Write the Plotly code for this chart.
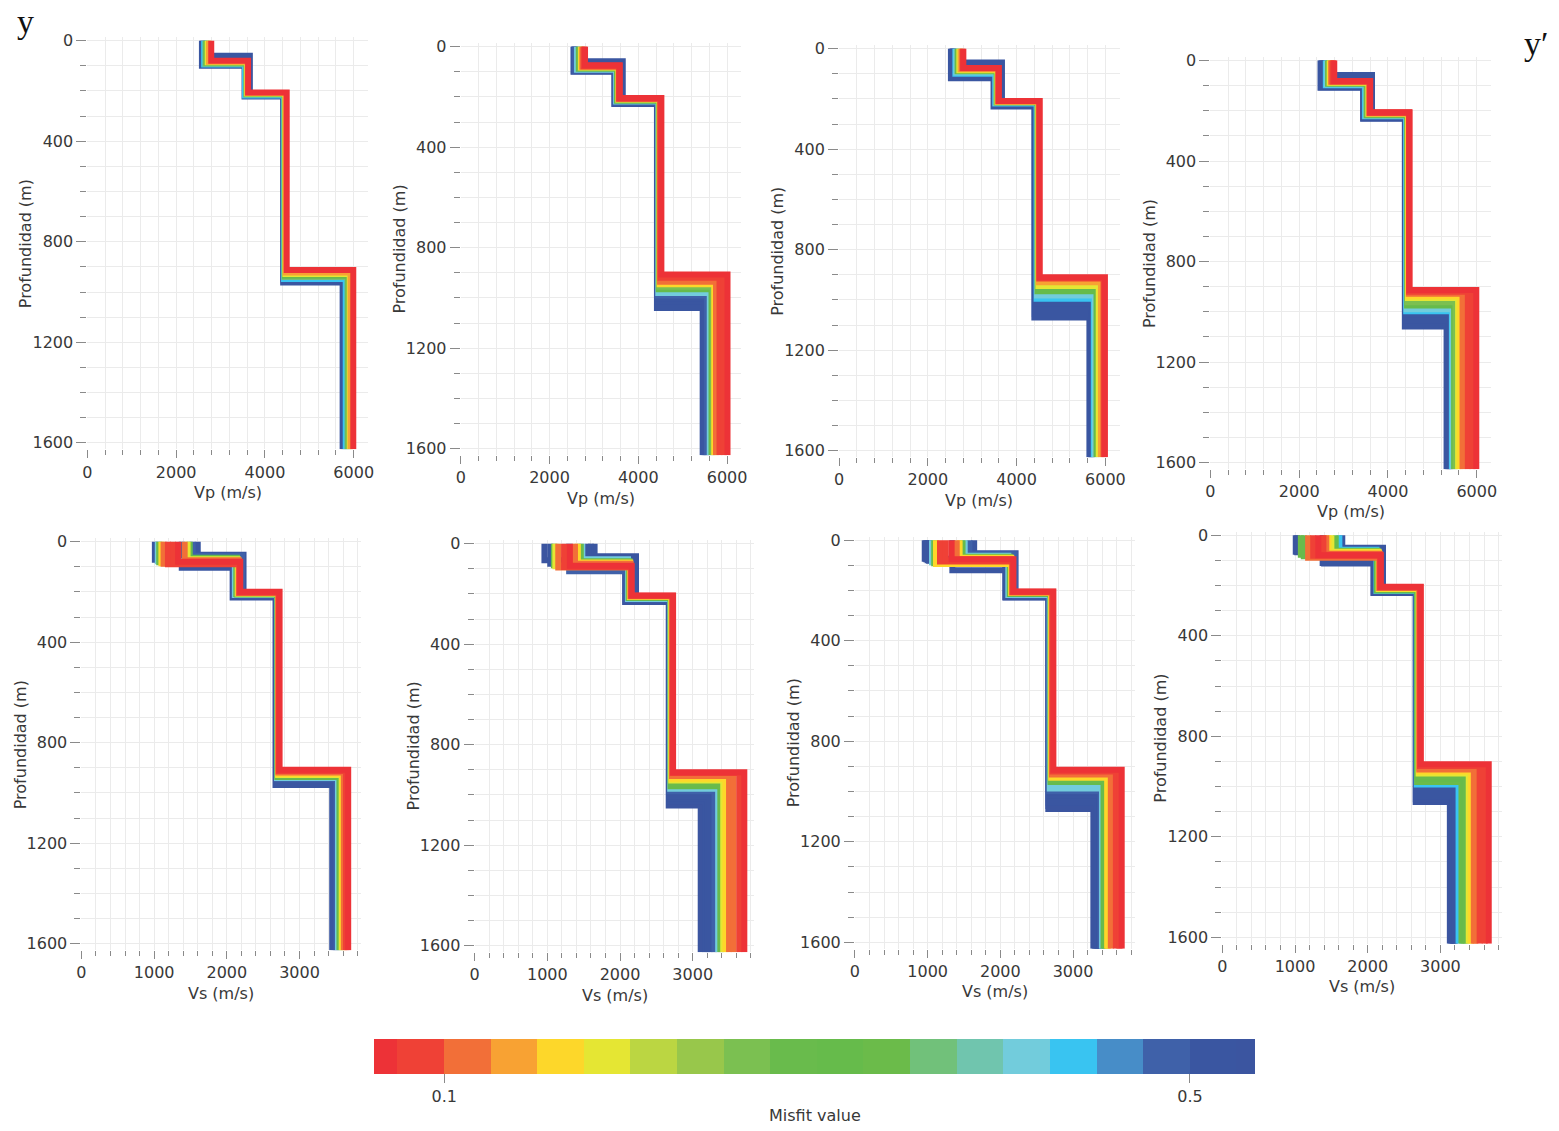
import plotly.graph_objects as go

W, H = 1559, 1131
FONT = "DejaVu Sans"
TXT = "#383838"
TICKC = "#8a8a8a"
GRIDC = "#ebebeb"
FS = 16

MAX_DEPTH = 1626      # bottom of every model (m)
TOP_DEPTH = -13       # top of the depth axis (m)

# ---- misfit colour scale (bin edges and bin colours) ----
MISFIT_EDGES = [0.0625, 0.075, 0.1, 0.125, 0.15, 0.175, 0.2, 0.225, 0.25, 0.275, 0.3,
                0.325, 0.35, 0.375, 0.4, 0.425, 0.45, 0.475, 0.5, 0.525, 0.535]
MISFIT_COLORS = ["#ED3237", "#EF4136", "#F26F38", "#F8A233", "#FDD72A", "#E5E633",
                 "#BBD642", "#98C74B", "#7BC051", "#69BB4C", "#66BB4B", "#6BBB4A",
                 "#71C17A", "#70C5AE", "#72CCDC", "#39C4F1", "#478DC8", "#3F61A9",
                 "#3A56A1", "#3B55A0"]
CBAR_TICKS = [0.1, 0.5]
CBAR_TICKTEXT = ["0.1", "0.5"]

# ---- Vp models: velocities [v1, v2, v3, v4] (m/s), interface depths [d1, d2, d3] (m) ----
VP1_MISFIT = [0.52, 0.50, 0.44, 0.36, 0.28, 0.18, 0.13, 0.07]
VP1_VEL = [[2580, 3540, 4410, 5750], [2600, 3660, 4420, 5790], [2630, 3550, 4430, 5820],
           [2660, 3580, 4440, 5860], [2680, 3590, 4450, 5880], [2710, 3600, 4460, 5910],
           [2740, 3610, 4470, 5930], [2790, 3620, 4490, 5990]]
VP1_DEPTH = [[100, 222, 962], [60, 218, 955], [95, 218, 948], [92, 214, 940],
             [88, 212, 935], [86, 210, 928], [84, 208, 922], [80, 206, 912]]

VP2_MISFIT = [0.52, 0.515, 0.51, 0.505, 0.49, 0.42, 0.32, 0.25, 0.17, 0.12, 0.09, 0.08, 0.07]
VP2_VEL = [[2540, 3460, 4420, 5450], [2550, 3470, 4425, 5475], [2560, 3650, 4430, 5500],
           [2570, 3475, 4435, 5525], [2580, 3480, 4440, 5550],
           [2620, 3500, 4450, 5610], [2660, 3520, 4460, 5650], [2690, 3540, 4470, 5680],
           [2710, 3550, 4480, 5710], [2740, 3560, 4490, 5750], [2770, 3570, 4500, 5830],
           [2790, 3575, 4510, 5930], [2800, 3580, 4520, 6010]]
VP2_DEPTH = [[100, 228, 1040], [98, 226, 1028], [58, 225, 1015], [96, 224, 1003],
             [95, 222, 990], [92, 218, 980],
             [88, 215, 965], [85, 212, 955], [83, 210, 945], [80, 208, 935],
             [78, 206, 920], [76, 205, 912], [74, 204, 907]]

VP3_MISFIT = [0.52, 0.515, 0.51, 0.505, 0.50, 0.43, 0.41, 0.31, 0.19, 0.13, 0.08, 0.07]
VP3_VEL = [[2520, 3480, 4400, 5640], [2540, 3490, 4410, 5660], [2560, 3670, 4420, 5680],
           [2570, 3495, 4425, 5690], [2580, 3500, 4430, 5700],
           [2620, 3520, 4450, 5740], [2640, 3530, 4460, 5760], [2670, 3550, 4470, 5800],
           [2710, 3570, 4490, 5850], [2740, 3580, 4500, 5900], [2780, 3590, 4510, 5960],
           [2800, 3600, 4520, 5990]]
VP3_DEPTH = [[118, 230, 1070], [112, 228, 1056], [55, 225, 1042], [108, 224, 1028],
             [105, 222, 1015], [100, 218, 995],
             [95, 216, 982], [90, 214, 965], [86, 212, 945], [82, 210, 930],
             [78, 209, 915], [77, 208, 910]]

VP4_MISFIT = [0.52, 0.515, 0.51, 0.505, 0.50, 0.43, 0.41, 0.31, 0.26, 0.19, 0.16, 0.12,
              0.09, 0.08, 0.07]
VP4_VEL = [[2480, 3440, 4380, 5320], [2500, 3450, 4385, 5340], [2520, 3640, 4390, 5360],
           [2550, 3455, 4395, 5380], [2580, 3460, 4400, 5400],
           [2600, 3480, 4410, 5440], [2620, 3500, 4420, 5460], [2650, 3520, 4430, 5490],
           [2670, 3540, 4440, 5520], [2690, 3560, 4450, 5580], [2700, 3570, 4460, 5620],
           [2720, 3580, 4470, 5680], [2750, 3590, 4475, 5800], [2770, 3595, 4480, 5900],
           [2790, 3600, 4485, 5990]]
VP4_DEPTH = [[108, 232, 1058], [106, 230, 1046], [57, 228, 1035], [104, 226, 1024],
             [102, 225, 1012], [98, 222, 998],
             [95, 220, 990], [92, 218, 975], [90, 215, 962], [88, 212, 945],
             [86, 211, 938], [84, 210, 928], [83, 208, 920], [82, 207, 916], [81, 206, 913]]

# ---- Vs models ----
VS1_MISFIT = [0.52, 0.51, 0.50, 0.49, 0.41, 0.30, 0.29, 0.18, 0.17, 0.12, 0.11, 0.09, 0.08, 0.07]
VS1_VEL = [[1010, 2080, 2670, 3450], [1600, 2230, 2680, 3480], [1380, 2090, 2680, 3500],
           [1530, 2210, 2690, 3510], [1050, 2110, 2690, 3530], [1490, 2140, 2695, 3550],
           [1070, 2130, 2700, 3560], [1460, 2150, 2705, 3580], [1100, 2160, 2705, 3590],
           [1420, 2165, 2710, 3610], [1130, 2170, 2712, 3620], [1190, 2175, 2715, 3640],
           [1260, 2180, 2720, 3660], [1330, 2185, 2725, 3670]]
VS1_DEPTH = [[72, 222, 968], [52, 218, 958], [104, 216, 950], [56, 214, 945],
             [78, 212, 940], [64, 210, 936], [82, 208, 932], [70, 206, 928],
             [86, 205, 924], [74, 204, 918], [88, 203, 915], [90, 202, 912],
             [85, 200, 910], [80, 199, 908]]

VS2_MISFIT = [0.53, 0.52, 0.515, 0.51, 0.50, 0.49, 0.42, 0.30, 0.28, 0.18, 0.16, 0.12,
              0.10, 0.08, 0.07]
VS2_VEL = [[960, 2070, 2670, 3110], [1650, 2220, 2675, 3170], [1600, 2210, 2678, 3200],
           [1040, 2080, 2680, 3230], [1560, 2200, 2680, 3290], [1300, 2090, 2685, 3300],
           [1480, 2110, 2690, 3350], [1090, 2120, 2695, 3380], [1460, 2130, 2700, 3390],
           [1110, 2135, 2705, 3420], [1420, 2140, 2710, 3450], [1380, 2145, 2715, 3500],
           [1150, 2150, 2720, 3560], [1230, 2155, 2725, 3640], [1310, 2160, 2730, 3710]]
VS2_DEPTH = [[66, 232, 1042], [50, 228, 1025], [53, 227, 1015], [80, 226, 1005],
             [56, 224, 988], [110, 222, 985], [62, 220, 975], [86, 216, 965],
             [70, 214, 955], [90, 212, 942], [75, 210, 935], [80, 209, 925],
             [95, 208, 918], [93, 207, 913], [88, 206, 910]]

VS3_MISFIT = [0.53, 0.525, 0.52, 0.515, 0.51, 0.50, 0.49, 0.41, 0.40, 0.30, 0.28, 0.17,
              0.16, 0.12, 0.09, 0.08, 0.07]
VS3_VEL = [[960, 2070, 2660, 3280], [980, 2072, 2662, 3300], [1640, 2210, 2665, 3320],
           [1000, 2076, 2668, 3340], [1020, 2080, 2670, 3360],
           [1340, 2085, 2670, 3370], [1575, 2200, 2675, 3380], [1510, 2110, 2680, 3400],
           [1060, 2120, 2685, 3405], [1480, 2130, 2690, 3420], [1090, 2140, 2695, 3440],
           [1440, 2150, 2700, 3470], [1115, 2155, 2705, 3480], [1400, 2160, 2710, 3520],
           [1170, 2170, 2720, 3590], [1250, 2175, 2725, 3640], [1330, 2180, 2730, 3670]]
VS3_DEPTH = [[74, 228, 1070], [76, 227, 1058], [52, 226, 1045], [80, 225, 1030],
             [82, 224, 1015], [120, 222, 1005],
             [56, 220, 998], [62, 218, 988], [88, 216, 975], [66, 214, 962],
             [92, 212, 955], [70, 210, 945], [95, 209, 940], [75, 208, 932],
             [85, 206, 920], [80, 205, 916], [76, 204, 913]]

VS4_MISFIT = [0.53, 0.525, 0.52, 0.515, 0.51, 0.44, 0.33, 0.31, 0.29, 0.19, 0.16, 0.12,
              0.11, 0.09, 0.08, 0.07]
VS4_VEL = [[1010, 2080, 2660, 3130], [1030, 2082, 2662, 3150], [1650, 2210, 2665, 3170],
           [1380, 2086, 2668, 3185], [1400, 2090, 2670, 3200],
           [1610, 2120, 2675, 3250], [1080, 2125, 2680, 3290], [1560, 2135, 2685, 3320],
           [1120, 2140, 2690, 3345], [1500, 2150, 2700, 3390], [1460, 2155, 2705, 3420],
           [1180, 2160, 2710, 3460], [1430, 2165, 2715, 3480], [1250, 2170, 2720, 3540],
           [1390, 2175, 2725, 3610], [1320, 2180, 2730, 3665]]
VS4_DEPTH = [[66, 230, 1062], [68, 229, 1051], [50, 228, 1040], [110, 227, 1026],
             [112, 226, 1012], [58, 222, 992],
             [78, 220, 982], [62, 218, 970], [84, 216, 960], [66, 214, 948],
             [70, 212, 940], [90, 210, 932], [74, 208, 925], [82, 207, 918],
             [78, 206, 914], [80, 205, 911]]

# ---- panel placement (pixel position of velocity 0 / depth 0) ----
PX_D = 0.2533
PX_PER = {"Vp": 0.0447, "Vs": 0.0732}
XMAX = {"Vp": 6320, "Vs": 3850}
XDTICK = {"Vp": 2000, "Vs": 1000}
XMINOR = {"Vp": 400, "Vs": 200}
XTITLE = {"Vp": "Vp (m/s)", "Vs": "Vs (m/s)"}
LINE_W = 6

PANELS = [
    ("Vp", 83, 35, VP1_MISFIT, VP1_VEL, VP1_DEPTH),
    ("Vp", 459, 41, VP2_MISFIT, VP2_VEL, VP2_DEPTH),
    ("Vp", 840, 43, VP3_MISFIT, VP3_VEL, VP3_DEPTH),
    ("Vp", 1214, 55, VP4_MISFIT, VP4_VEL, VP4_DEPTH),
    ("Vs", 77, 540, VS1_MISFIT, VS1_VEL, VS1_DEPTH),
    ("Vs", 473, 542, VS2_MISFIT, VS2_VEL, VS2_DEPTH),
    ("Vs", 856, 538.5, VS3_MISFIT, VS3_VEL, VS3_DEPTH),
    ("Vs", 1226, 533.5, VS4_MISFIT, VS4_VEL, VS4_DEPTH),
]


def misfit_color(m):
    for i in range(len(MISFIT_COLORS)):
        if MISFIT_EDGES[i] <= m < MISFIT_EDGES[i + 1]:
            return MISFIT_COLORS[i]
    return MISFIT_COLORS[-1] if m >= MISFIT_EDGES[-1] else MISFIT_COLORS[0]


cmin, cmax = MISFIT_EDGES[0], MISFIT_EDGES[-1]
colorscale = []
for i, c in enumerate(MISFIT_COLORS):
    colorscale.append([(MISFIT_EDGES[i] - cmin) / (cmax - cmin), c])
    colorscale.append([(MISFIT_EDGES[i + 1] - cmin) / (cmax - cmin), c])
colorscale[-1][0] = 1.0

fig = go.Figure()
layout = dict(width=W, height=H, margin=dict(l=0, r=0, t=0, b=0),
              paper_bgcolor="white", plot_bgcolor="white", showlegend=False,
              font=dict(family=FONT, size=FS, color=TXT))
annotations = []

for k, (kind, x0, y0, mis, vel, dep) in enumerate(PANELS, start=1):
    sx = PX_PER[kind]
    left, right = x0, x0 + XMAX[kind] * sx
    top, bottom = y0 + TOP_DEPTH * PX_D, y0 + MAX_DEPTH * PX_D
    xa = "xaxis" if k == 1 else f"xaxis{k}"
    ya = "yaxis" if k == 1 else f"yaxis{k}"
    xr = "x" if k == 1 else f"x{k}"
    yr = "y" if k == 1 else f"y{k}"
    layout[xa] = dict(domain=[left / W, right / W], anchor=yr, range=[0, XMAX[kind]],
                      tick0=0, dtick=XDTICK[kind], ticks="outside", ticklen=8, tickwidth=1,
                      tickcolor=TICKC, showgrid=True, gridcolor=GRIDC, zeroline=False,
                      showline=False, tickfont=dict(size=FS, color=TXT),
                      minor=dict(tick0=0, dtick=XMINOR[kind], ticks="outside", ticklen=5,
                                 tickcolor=TICKC, showgrid=True, gridcolor=GRIDC),
                      fixedrange=True)
    layout[ya] = dict(domain=[1 - bottom / H, 1 - top / H], anchor=xr,
                      range=[MAX_DEPTH, TOP_DEPTH], tick0=0, dtick=400, ticks="outside",
                      ticklen=10, tickwidth=1, tickcolor=TICKC, showgrid=True,
                      gridcolor=GRIDC, zeroline=False, showline=False,
                      tickfont=dict(size=FS, color=TXT),
                      minor=dict(tick0=0, dtick=100, ticks="outside", ticklen=6,
                                 tickcolor=TICKC, showgrid=True, gridcolor=GRIDC),
                      fixedrange=True)
    annotations.append(dict(text=XTITLE[kind], x=(left + right) / 2 / W, y=1 - (y0 + 455) / H,
                            xref="paper", yref="paper", xanchor="center", yanchor="middle",
                            showarrow=False, font=dict(size=FS, color=TXT)))
    annotations.append(dict(text="Profundidad (m)", x=(x0 - 62) / W, y=1 - (top + bottom) / 2 / H,
                            xref="paper", yref="paper", xanchor="center", yanchor="middle",
                            textangle=-90, showarrow=False, font=dict(size=FS, color=TXT)))
    order = sorted(range(len(mis)), key=lambda i: -mis[i])
    for i in order:
        v1, v2, v3, v4 = vel[i]
        d1, d2, d3 = dep[i]
        fig.add_trace(go.Scatter(
            x=[v1, v1, v2, v2, v3, v3, v4, v4],
            y=[0, d1, d1, d2, d2, d3, d3, MAX_DEPTH],
            mode="lines", line=dict(color=misfit_color(mis[i]), width=LINE_W),
            xaxis=xr, yaxis=yr, hoverinfo="skip", showlegend=False))

# colour bar carried by invisible markers of the first panel's models
fig.add_trace(go.Scatter(
    x=[v[0] for v in VP1_VEL], y=[0] * len(VP1_VEL), mode="markers",
    marker=dict(color=VP1_MISFIT, colorscale=colorscale, cmin=cmin, cmax=cmax,
                size=1, opacity=0, showscale=True,
                colorbar=dict(orientation="h", x=815.5 / W, xanchor="center",
                              y=1 - 1041 / H, yanchor="top", len=887 / W, lenmode="fraction",
                              thickness=35, xpad=0, ypad=0, outlinewidth=0,
                              tickvals=CBAR_TICKS, ticktext=CBAR_TICKTEXT, ticks="outside",
                              ticklen=9, tickcolor=TICKC,
                              tickfont=dict(size=FS, color=TXT))),
    xaxis="x", yaxis="y", hoverinfo="skip", showlegend=False))

annotations.append(dict(text="Misfit value", x=815.5 / W, y=1 - 1118 / H, xref="paper",
                        yref="paper", xanchor="center", yanchor="middle", showarrow=False,
                        font=dict(size=FS, color=TXT)))
annotations.append(dict(text="y", x=21 / W, y=1 - 16 / H, xref="paper", yref="paper",
                        xanchor="center", yanchor="middle", showarrow=False,
                        font=dict(family="Liberation Serif", size=34, color="#111")))
annotations.append(dict(text="y\u2032", x=1542 / W, y=1 - 38 / H, xref="paper", yref="paper",
                        xanchor="center", yanchor="middle", showarrow=False,
                        font=dict(family="Liberation Serif", size=34, color="#111")))
layout["annotations"] = annotations
fig.update_layout(**layout)
fig.write_html("out.html")
